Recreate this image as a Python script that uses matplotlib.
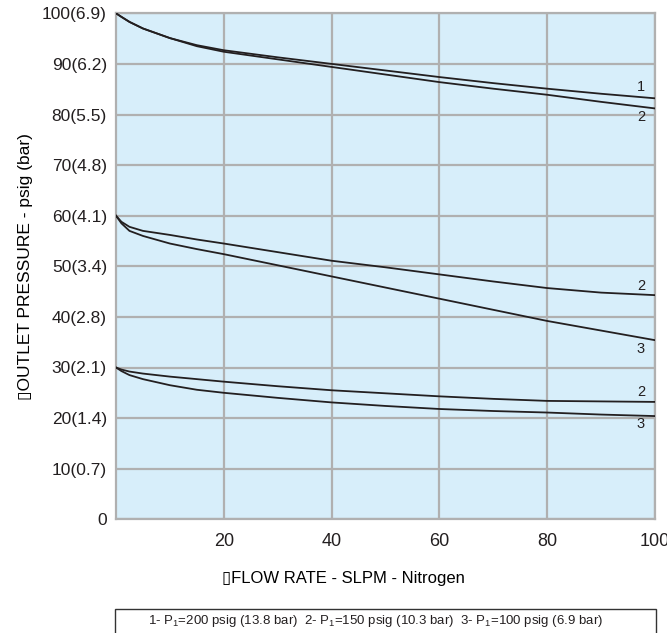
import matplotlib
matplotlib.use("Agg")
import matplotlib.pyplot as plt
from matplotlib.patches import Rectangle

plt.rcParams['font.family'] = ['Liberation Sans', 'DejaVu Sans']

# flow rate, SLPM nitrogen
flow = [0, 1, 2.5, 5, 10, 15, 20, 30, 40, 50, 60, 70, 80, 90, 100]

# outlet pressure, psig
top_1 = [100, 99.3, 98.3, 97.0, 95.1, 93.7, 92.7, 91.3, 90.0, 88.7, 87.4, 86.2, 85.1, 84.1, 83.2]
top_2 = [100, 99.3, 98.3, 97.0, 95.1, 93.5, 92.4, 90.9, 89.4, 87.9, 86.4, 85.1, 83.9, 82.5, 81.2]
mid_2 = [60, 58.8, 57.8, 57.0, 56.2, 55.3, 54.5, 52.8, 51.1, 49.8, 48.4, 47.0, 45.7, 44.8, 44.3]
mid_3 = [60, 58.5, 57.0, 56.0, 54.5, 53.4, 52.4, 50.2, 48.0, 45.8, 43.6, 41.4, 39.2, 37.3, 35.4]
low_2 = [30, 29.6, 29.2, 28.8, 28.2, 27.7, 27.2, 26.3, 25.5, 24.9, 24.3, 23.8, 23.4, 23.3, 23.2]
low_3 = [30, 29.3, 28.5, 27.7, 26.5, 25.6, 25.0, 24.0, 23.1, 22.4, 21.8, 21.4, 21.1, 20.7, 20.4]

curves = [(top_1, '1', 85.4), (top_2, '2', 79.6),
          (mid_2, '2', 46.2), (mid_3, '3', 33.6),
          (low_2, '2', 25.2), (low_3, '3', 18.8)]

y_ticks = [0, 10, 20, 30, 40, 50, 60, 70, 80, 90, 100]
y_labels = ['0', '10(0.7)', '20(1.4)', '30(2.1)', '40(2.8)', '50(3.4)',
            '60(4.1)', '70(4.8)', '80(5.5)', '90(6.2)', '100(6.9)']
x_ticks = [20, 40, 60, 80, 100]

W, H = 667, 633
fig = plt.figure(figsize=(W / 100, H / 100), dpi=100)
ax = fig.add_axes([116 / W, 1 - 519.3 / H, (655 - 116) / W, (519.3 - 13.3) / H])
ax.set_facecolor('#d7eefa')

for ys, lab, ly in curves:
    ax.plot(flow, ys, color='#231f20', lw=1.3, zorder=3)
    ax.text(97.4, ly, lab, fontsize=10.5, ha='center', va='center', color='#231f20')

ax.set_xlim(0, 100)
ax.set_ylim(0, 100)
ax.set_xticks(x_ticks)
ax.set_xticklabels([str(t) for t in x_ticks], fontsize=13)
ax.set_yticks(y_ticks)
ax.set_yticklabels(y_labels, fontsize=12.5)
ax.tick_params(length=0, colors='#231f20')
ax.tick_params(axis='y', pad=6.5)
ax.tick_params(axis='x', pad=10)
ax.grid(True, color='#b0b0b0', lw=1.6, zorder=1)
ax.set_axisbelow(True)
for s in ax.spines.values():
    s.set_color('#b0b0b0')
    s.set_linewidth(1.6)

# the label's anchor is its right edge once rotated
ax.set_ylabel('\u25afOUTLET PRESSURE - psig (bar)', fontsize=12.5)
ax.yaxis.set_label_coords((33 - 116) / 539, 0.5)
fig.text(343 / W, 1 - 578 / H, '\u25afFLOW RATE - SLPM - Nitrogen', fontsize=12,
         ha='center', va='center')

fig.patches.append(Rectangle((115 / W, 1 - 645 / H), (656 - 115) / W, 36 / H,
                             transform=fig.transFigure, fill=False,
                             edgecolor='#333333', lw=1))
fig.text(148 / W, 1 - 621 / H,
         '1- P$_{\\mathregular{1}}$=200 psig (13.8 bar)  2- P$_{\\mathregular{1}}$=150 psig (10.3 bar)'
         '  3- P$_{\\mathregular{1}}$=100 psig (6.9 bar)',
         fontsize=9.5, ha='left', va='center', color='#231f20')

fig.savefig('out.png', dpi=100)
